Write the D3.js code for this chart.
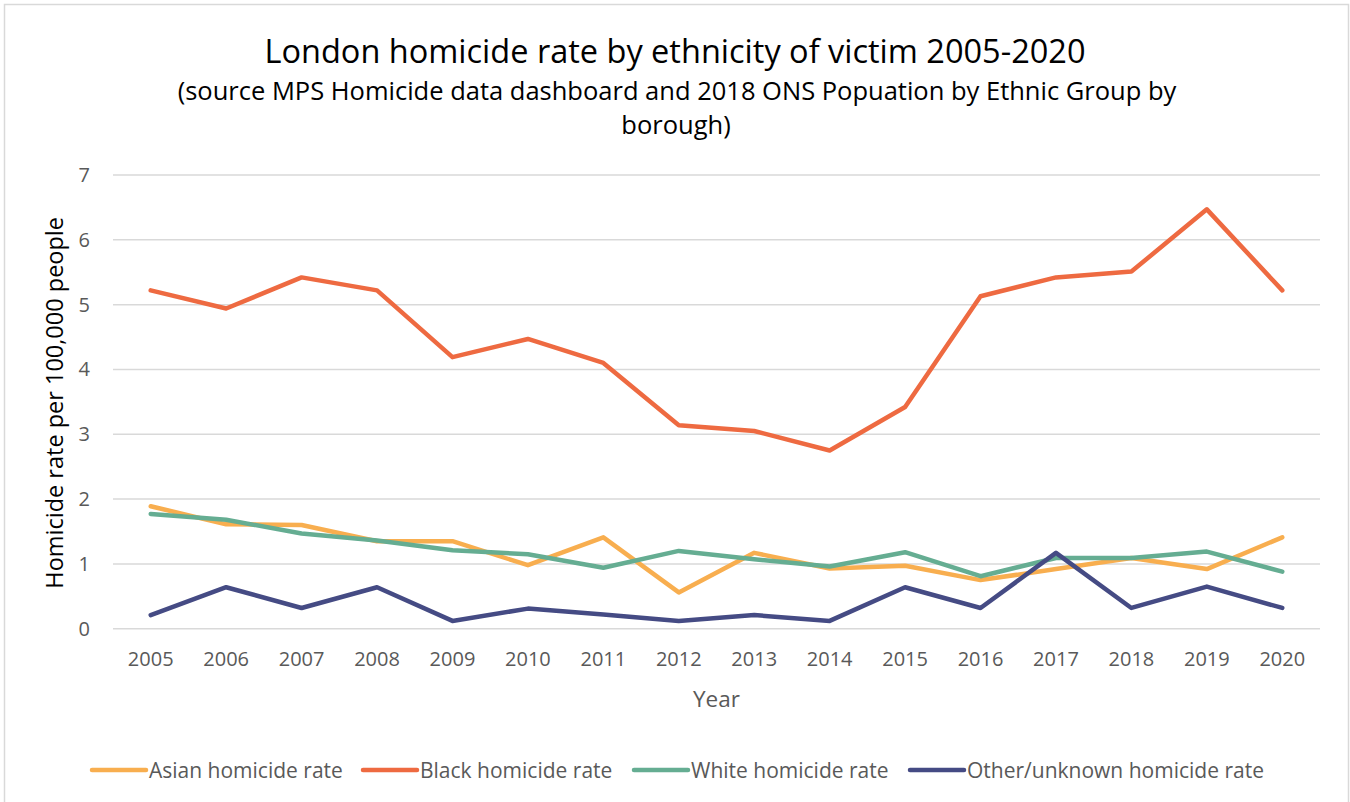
<!DOCTYPE html>
<html lang="en">
<head>
    <meta charset="UTF-8">
    <title>London homicide rate by ethnicity of victim</title>
    <script src="https://d3js.org/d3.v7.min.js"></script>
    <style>
        body{
            margin: 0;
            background: white;
            font-family: "Open Sans", sans-serif;
        }
        .tick text{
            fill: #595959;
        }
    </style>
</head>
<body>
<svg id="chart" width="1350" height="802"></svg>
<script>
    // data
    let years = ["2005","2006","2007","2008","2009","2010","2011","2012",
        "2013","2014","2015","2016","2017","2018","2019","2020"]
    let asianRate = [1.89,1.61,1.60,1.35,1.35,0.98,1.41,0.56,1.17,0.93,0.97,0.75,0.92,1.09,0.92,1.41]
    let blackRate = [5.22,4.94,5.42,5.22,4.19,4.47,4.10,3.14,3.05,2.75,3.42,5.13,5.42,5.51,6.47,5.22]
    let whiteRate = [1.77,1.68,1.47,1.36,1.21,1.15,0.94,1.20,1.07,0.96,1.18,0.81,1.09,1.09,1.19,0.88]
    let otherRate = [0.21,0.64,0.32,0.64,0.12,0.31,0.22,0.12,0.21,0.12,0.64,0.32,1.17,0.32,0.65,0.32]
    let seriesNames = ["Asian homicide rate","Black homicide rate","White homicide rate","Other/unknown homicide rate"]
    let seriesColors = ["#F8AE4F","#EE6A41","#65AD92","#454B84"]
    let yTicks = [0,1,2,3,4,5,6,7]

    let series = [asianRate, blackRate, whiteRate, otherRate].map((vals, i) => ({
        name: seriesNames[i],
        color: seriesColors[i],
        values: vals
    }))

    let svg = d3.select("#chart")
    let margin = {left: 113, right: 30, top: 175, bottom: 173}
    let width = 1350, height = 802

    // outer chart border
    svg.append("rect")
        .attr("x", 4.5).attr("y", 4.5)
        .attr("width", 1344).attr("height", 820)
        .attr("fill", "white")
        .attr("stroke", "#d9d9d9")
        .attr("stroke-width", 1.5)

    let x = d3.scaleBand()
        .domain(years)
        .range([margin.left, width - margin.right])
    let y = d3.scaleLinear()
        .domain([0, 7])
        .range([height - margin.bottom - 0.3, margin.top])

    // gridlines
    svg.append("g")
        .selectAll("line")
        .data(yTicks)
        .enter()
        .append("line")
        .attr("x1", margin.left)
        .attr("x2", width - margin.right)
        .attr("y1", d => y(d))
        .attr("y2", d => y(d))
        .attr("stroke", "#d9d9d9")
        .attr("stroke-width", 1.5)

    // y axis labels
    let yAxis = d3.axisLeft(y).tickValues(yTicks).tickFormat(d3.format("d"))
        .tickSize(0).tickPadding(23)
    svg.append("g")
        .attr("transform", `translate(${margin.left},0)`)
        .call(yAxis)
        .call(g => g.select(".domain").remove())
        .selectAll("text")
        .style("font-size", "20px")
        .style("font-family", "Open Sans")

    // x axis labels
    let xAxis = d3.axisBottom(x).tickSize(0).tickPadding(23)
    svg.append("g")
        .attr("transform", `translate(0,${y(0)})`)
        .call(xAxis)
        .call(g => g.select(".domain").remove())
        .selectAll("text")
        .style("font-size", "20px")
        .style("font-family", "Open Sans")

    // lines
    let line = d3.line()
        .x((d, i) => x(years[i]) + x.bandwidth() / 2)
        .y(d => y(d))

    svg.append("g")
        .selectAll("path")
        .data(series)
        .enter()
        .append("path")
        .attr("d", d => line(d.values))
        .attr("fill", "none")
        .attr("stroke", d => d.color)
        .attr("stroke-width", 4.5)
        .attr("stroke-linejoin", "round")
        .attr("stroke-linecap", "round")

    // titles
    svg.append("text")
        .attr("x", 675).attr("y", 63)
        .attr("text-anchor", "middle")
        .style("font-size", "32.5px")
        .style("fill", "#000")
        .text("London homicide rate by ethnicity of victim 2005-2020")
    svg.append("text")
        .attr("x", 677).attr("y", 100)
        .attr("text-anchor", "middle")
        .style("font-size", "25.5px")
        .style("fill", "#000")
        .text("(source MPS Homicide data dashboard and 2018 ONS Popuation by Ethnic Group by")
    svg.append("text")
        .attr("x", 676).attr("y", 134)
        .attr("text-anchor", "middle")
        .style("font-size", "25.5px")
        .style("fill", "#000")
        .text("borough)")

    // axis titles
    svg.append("text")
        .attr("transform", `translate(63,${(y(0) + y(7)) / 2 + 1}) rotate(-90)`)
        .attr("text-anchor", "middle")
        .style("font-size", "23.5px")
        .style("fill", "#000")
        .text("Homicide rate per 100,000 people")
    svg.append("text")
        .attr("x", (margin.left + width - margin.right) / 2)
        .attr("y", 707)
        .attr("text-anchor", "middle")
        .style("font-size", "22.5px")
        .style("fill", "#595959")
        .text("Year")

    // legend
    let legendX = [92, 363, 634, 910]
    let legend = svg.append("g")
        .selectAll("g")
        .data(series)
        .enter()
        .append("g")
        .attr("transform", (d, i) => `translate(${legendX[i]},770)`)
    legend.append("line")
        .attr("x1", 0).attr("x2", 54)
        .attr("stroke", d => d.color)
        .attr("stroke-width", 4.5)
        .attr("stroke-linecap", "round")
    legend.append("text")
        .attr("x", 57).attr("y", 7.5)
        .style("font-size", "21px")
        .style("fill", "#595959")
        .text(d => d.name)
</script>
</body>
</html>
